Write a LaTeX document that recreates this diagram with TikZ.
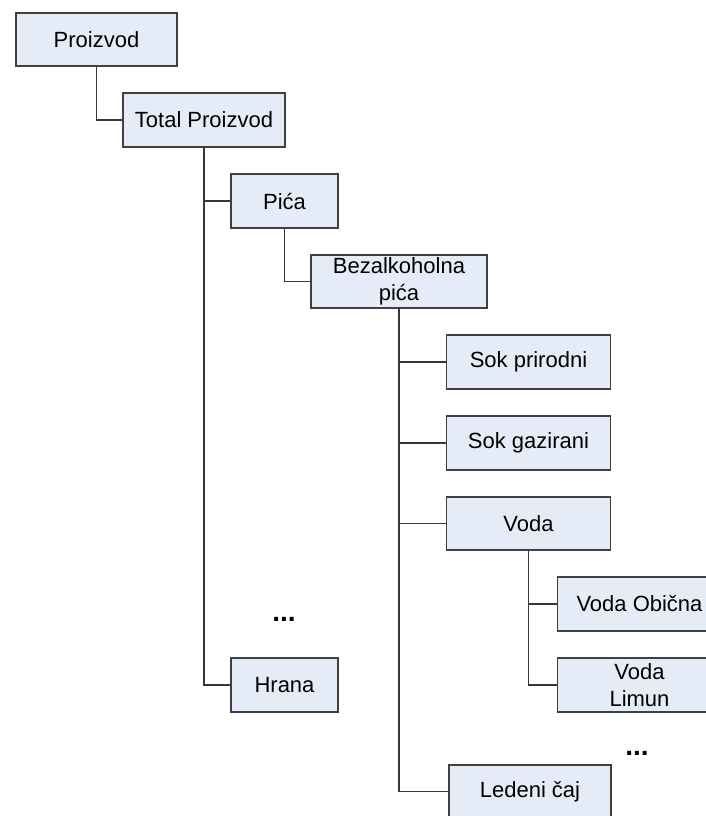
\documentclass[tikz,border=0pt]{standalone}
\usepackage{fontspec}
\setmainfont{Liberation Sans}
\begin{document}
\begin{tikzpicture}[x=0.5pt,y=-0.5pt,
  box/.style={draw=boxline,fill=boxfill,line width=0.8pt,minimum height=26.75pt,inner sep=0pt,align=center,font=\fontsize{11}{13.5}\selectfont},
  wide/.style={box,minimum width=82pt},
  narrow/.style={box,minimum width=53.5pt},
  conn/.style={draw=connline,line width=0.85pt},
  dots/.style={font=\fontsize{14}{14}\selectfont\bfseries,inner sep=0pt}]
\definecolor{boxfill}{RGB}{230,236,247}
\definecolor{boxline}{RGB}{64,64,64}
\definecolor{connline}{RGB}{55,55,55}
\useasboundingbox (0,0) rectangle (706,816);
\clip (0,0) rectangle (706,816);
\fill[white] (0,0) rectangle (706,816);
\node[box,minimum width=80.5pt] (p0) at (96.5,39.5) {Proizvod};
\node[box,minimum width=81pt] (p1) at (204,120) {Total Proizvod};
\node[narrow] (p2) at (284.5,201) {Pića};
\node[box,minimum width=88pt] (p3) at (399,281.5) {Bezalkoholna\\pića};
\node[wide] (p4) at (528.5,362) {Sok prirodni};
\node[wide] (p5) at (528.5,443) {Sok gazirani};
\node[wide] (p6) at (528.5,523.5) {Voda};
\node[wide] (p7) at (639.5,604) {Voda Obična};
\node[wide] (p8) at (639.5,685) {Voda\\Limun};
\node[narrow] (p9) at (284.5,685) {Hrana};
\node[box,minimum width=81pt] (p10) at (530,791.5) {Ledeni čaj};
\node[dots] (d1) at (284,619) {...};
\node[dots] (d2) at (637,753) {...};
\draw[conn] (p0.south) |- (p1.west);
\draw[conn] (p1.south) |- (p2.west);
\draw[conn] (p1.south) |- (p9.west);
\draw[conn] (p2.south) |- (p3.west);
\draw[conn] (p3.south) |- (p4.west);
\draw[conn] (p3.south) |- (p5.west);
\draw[conn] (p3.south) |- (p6.west);
\draw[conn] (p3.south) |- (p10.west);
\draw[conn] (p6.south) |- (p7.west);
\draw[conn] (p6.south) |- (p8.west);
\end{tikzpicture}
\end{document}
